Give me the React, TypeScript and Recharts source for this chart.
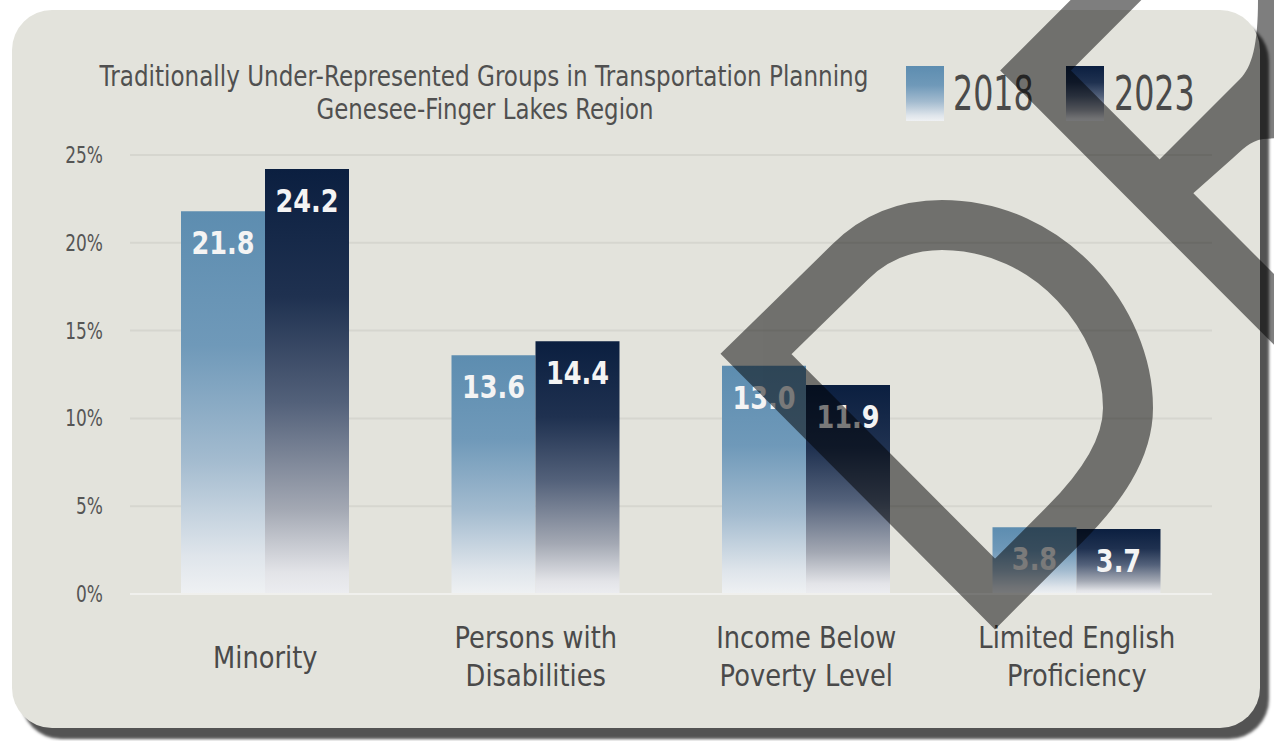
import React from 'react';
import { BarChart, Bar, XAxis, YAxis, CartesianGrid, LabelList, ReferenceLine } from 'recharts';

const categories = ['Minority', 'Persons with Disabilities', 'Income Below Poverty Level', 'Limited English Proficiency'];
const categoryLines = [['Minority'], ['Persons with', 'Disabilities'], ['Income Below', 'Poverty Level'], ['Limited English', 'Proficiency']];
const values2018 = [21.8, 13.6, 13.0, 3.8];
const values2023 = [24.2, 14.4, 11.9, 3.7];
const yTicks = [0, 5, 10, 15, 20, 25];
const titleLines = ['Traditionally Under-Represented Groups in Transportation Planning', 'Genesee-Finger Lakes Region'];
const titleWidths = [769, 337];
const seriesNames = ['2018', '2023'];

const FONT = "'DejaVu Sans', sans-serif";

// width of a string in DejaVu, used to squeeze the title to the reference width
const measure = (txt: string, size: number) => {
    const ctx = document.createElement('canvas').getContext('2d');
    if (!ctx) return txt.length * size * 0.57;
    ctx.font = `${size}px 'DejaVu Sans'`;
    return ctx.measureText(txt).width;
};

// the reference uses a tall condensed face, so squeeze DejaVu horizontally
const NText = ({ x, y, sx = 0.8, anchor = 'middle', children, ...rest }: any) => (
    <g transform={`translate(${x},${y}) scale(${sx},1)`}>
        <text x={0} y={0} textAnchor={anchor} fontFamily={FONT} {...rest}>{children}</text>
    </g>
);

const data = categories.map((name, i) => ({ name, y2018: values2018[i], y2023: values2023[i] }));

const YTick = (props: any) => {
    const { x, y, payload } = props;
    return (
        <NText x={x} y={y + 8} sx={0.74} anchor="end" fill="#555" fontSize={23}>
            {payload.value}%
        </NText>
    );
};

const XTick = (props: any) => {
    const { x, y, index } = props;
    const lines = categoryLines[index] || [];
    const starts = lines.length === 1 ? [74] : [54, 92];
    return (
        <g>
            {lines.map((line, i) => (
                <NText key={i} x={x} y={y + starts[i]} sx={0.83} fill="#4a4a4a" fontSize={31}>
                    {line}
                </NText>
            ))}
        </g>
    );
};

const ValueLabel = (props: any) => {
    const { x, y, width, value } = props;
    return (
        <NText x={x + width / 2} y={y + 43} sx={0.8} fill="#f4f4f4" fontSize={32} fontWeight="bold">
            {Number(value).toFixed(1)}
        </NText>
    );
};

const Gradients = () => (
    <defs>
        <linearGradient id="g2018" x1="0" y1="0" x2="0" y2="1">
            <stop offset="0%" stopColor="#5d8db0" />
            <stop offset="35%" stopColor="#6f99b9" />
            <stop offset="65%" stopColor="#a3bbcf" />
            <stop offset="90%" stopColor="#dfe5eb" />
            <stop offset="100%" stopColor="#eff1f3" />
        </linearGradient>
        <linearGradient id="g2023" x1="0" y1="0" x2="0" y2="1">
            <stop offset="0%" stopColor="#0b1f40" />
            <stop offset="30%" stopColor="#1f3150" />
            <stop offset="55%" stopColor="#53617a" />
            <stop offset="80%" stopColor="#a3a8b3" />
            <stop offset="95%" stopColor="#e3e4e8" />
            <stop offset="100%" stopColor="#ecedf0" />
        </linearGradient>
    </defs>
);

export default function App() {
    const titleScale = titleLines.map((t, i) => titleWidths[i] / measure(t, 29));

    return (
        <div style={{ position: 'absolute', left: 0, top: 0, width: 1274, height: 741, background: '#fff', overflow: 'hidden' }}>
            {/* card */}
            <div style={{
                position: 'absolute', left: 12, top: 10, width: 1248, height: 718, borderRadius: 40,
                background: '#e3e3dc', boxShadow: '9px 11px 3px rgba(40,40,40,0.8)'
            }} />

            <div style={{ position: 'absolute', left: 0, top: 0 }}>
                <BarChart width={1274} height={741} data={data} barGap={0} barSize={84}
                    margin={{ top: 155, right: 62, bottom: 57, left: 0 }}>
                    <Gradients />
                    <NText x={484} y={86} sx={titleScale[0]} fill="#505050" fontSize={29}>{titleLines[0]}</NText>
                    <NText x={485} y={119} sx={titleScale[1]} fill="#505050" fontSize={29}>{titleLines[1]}</NText>

                    {/* legend */}
                    {seriesNames.map((label, i) => (
                        <g key={label}>
                            <rect x={906 + i * 160} y={66} width={38} height={55} fill={i === 0 ? 'url(#g2018)' : 'url(#g2023)'} />
                            <NText x={953 + i * 161} y={110} sx={0.66} anchor="start" fill="#4a4a4a" fontSize={48}>{label}</NText>
                        </g>
                    ))}

                    <CartesianGrid vertical={false} stroke="#d6d6cf" strokeWidth={2} />
                    <XAxis dataKey="name" axisLine={false} tickLine={false} tickSize={0} tickMargin={0}
                        height={90} interval={0} tick={<XTick />} />
                    <YAxis domain={[0, 25]} ticks={yTicks} axisLine={false} tickLine={false} tickSize={0}
                        tickMargin={27} width={130} tick={<YTick />} />
                    <ReferenceLine y={0} stroke="#f0f0ed" strokeWidth={2} />
                    <Bar dataKey="y2018" name="2018" fill="url(#g2018)" isAnimationActive={false}>
                        <LabelList dataKey="y2018" content={<ValueLabel />} />
                    </Bar>
                    <Bar dataKey="y2023" name="2023" fill="url(#g2023)" isAnimationActive={false}>
                        <LabelList dataKey="y2023" content={<ValueLabel />} />
                    </Bar>
                </BarChart>
            </div>

            {/* watermark shape laid over the card */}
            <svg width={1274} height={741} style={{ position: 'absolute', left: 0, top: 0, pointerEvents: 'none' }}>
                <g opacity={0.5}>
                    <g fill="none" stroke="#000" strokeWidth={50} strokeLinejoin="miter">
                        <path d="M 756 354 L 995 594 L 1065 524 C 1100 489 1128 450 1128 408 C 1128 320 1050 225 942 225 C 905 225 875 237 850 262 Z" />
                        <path d="M 1136 -30 L 1035.5 70.5 L 1320 355.5" />
                    </g>
                    <path fill="#000" d="M 1150 169 L 1240 79 C 1252 67 1258 45 1258 0 L 1280 0 L 1280 138 L 1263 139 C 1250 141 1242 150 1233 158 L 1180 205 Z" />
                </g>
            </svg>
        </div>
    );
}
